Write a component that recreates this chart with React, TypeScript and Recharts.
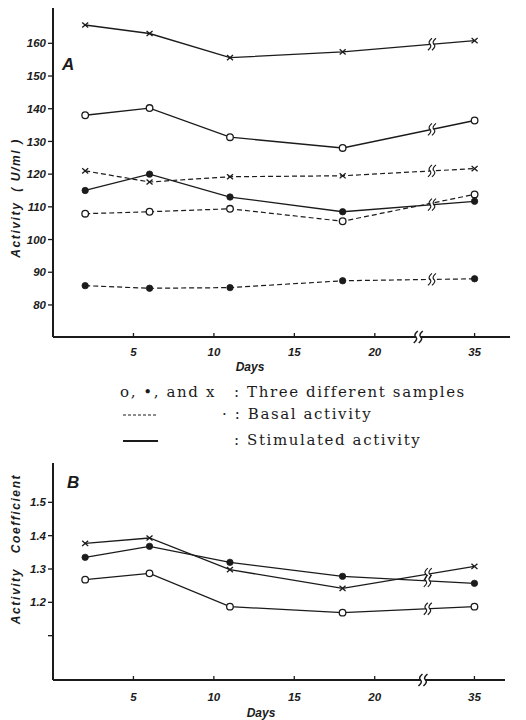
import React from 'react';
import { LineChart, Line, XAxis, YAxis, ReferenceDot } from 'recharts';

// ---- data ----
const days = [2, 6, 11, 18, 35];
const dayTicks = [5, 10, 15, 20, 35];

// Panel A: activity (U/ml)
const stimX = [165.6, 163.0, 155.6, 157.4, 160.8];
const stimO = [138.0, 140.2, 131.3, 128.0, 136.4];
const stimDot = [115.0, 120.0, 113.0, 108.5, 111.7];
const basalX = [121.0, 117.6, 119.2, 119.5, 121.7];
const basalO = [107.9, 108.5, 109.4, 105.6, 113.8];
const basalDot = [85.9, 85.1, 85.3, 87.4, 88.0];
const activityTicks = [80, 90, 100, 110, 120, 130, 140, 150, 160];

// Panel B: activity coefficient
const coefX = [1.377, 1.393, 1.298, 1.242, 1.308];
const coefDot = [1.335, 1.368, 1.32, 1.278, 1.257];
const coefO = [1.268, 1.287, 1.187, 1.169, 1.187];
const coefTicks = [1.1, 1.2, 1.3, 1.4, 1.5];

// broken x axis: day 35 is drawn just after the break
const BROKEN_DAY = 35;
const BROKEN_POS = 26.2;
const toPos = (d: number) => (d === BROKEN_DAY ? BROKEN_POS : d);
const posTicks = dayTicks.map(toPos);
const posLabel = (p: number) => String(p === BROKEN_POS ? BROKEN_DAY : p);

const dataA = days.map((d, i) => ({
  pos: toPos(d),
  stimX: stimX[i],
  stimO: stimO[i],
  stimDot: stimDot[i],
  basalX: basalX[i],
  basalO: basalO[i],
  basalDot: basalDot[i],
}));
const dataB = days.map((d, i) => ({
  pos: toPos(d),
  coefX: coefX[i],
  coefDot: coefDot[i],
  coefO: coefO[i],
}));

const INK = '#1b1b1b';
const SANS = '"Liberation Sans", Arial, sans-serif';
const SERIF = '"DejaVu Serif", "Liberation Serif", serif';

// value on the last segment at a given x position (for break marks)
const onLastSegment = (s: number[], p: number) =>
  s[3] + ((s[4] - s[3]) * (p - toPos(days[3]))) / (BROKEN_POS - toPos(days[3]));

// ---- marks ----
const OpenDot = (p: any) =>
  p.cx == null ? <g key={p.index} /> : (
    <circle key={p.index} cx={p.cx} cy={p.cy} r={3.3} fill="#fff" stroke={INK} strokeWidth={1.3} />
  );
const FilledDot = (p: any) =>
  p.cx == null ? <g key={p.index} /> : (
    <circle key={p.index} cx={p.cx} cy={p.cy} r={3.2} fill={INK} stroke={INK} strokeWidth={0.8} />
  );
const Cross = (p: any) =>
  p.cx == null ? <g key={p.index} /> : (
    <g key={p.index} stroke={INK} strokeWidth={1.3}>
      <line x1={p.cx - 3} y1={p.cy - 2.6} x2={p.cx + 3} y2={p.cy + 2.6} />
      <line x1={p.cx - 3} y1={p.cy + 2.6} x2={p.cx + 3} y2={p.cy - 2.6} />
    </g>
  );

const sPath = (cx: number, cy: number, h: number) =>
  `M ${cx - 2} ${cy + h} Q ${cx + 2.5} ${cy + h / 3} ${cx} ${cy} Q ${cx - 2.5} ${cy - h / 3} ${cx + 2} ${cy - h}`;

const LineBreak = (p: any) =>
  p.cx == null ? <g /> : (
    <g>
      <rect x={p.cx - 1.5} y={p.cy - 3} width={3} height={6} fill="#fff" />
      <path d={sPath(p.cx - 2, p.cy, 6)} stroke={INK} strokeWidth={1.2} fill="none" />
      <path d={sPath(p.cx + 2, p.cy, 6)} stroke={INK} strokeWidth={1.2} fill="none" />
    </g>
  );
const AxisBreak = (p: any) =>
  p.cx == null ? <g /> : (
    <g>
      <rect x={p.cx - 2} y={p.cy - 3} width={4} height={6} fill="#fff" />
      <path d={sPath(p.cx - 2.5, p.cy, 6)} stroke={INK} strokeWidth={1.5} fill="none" />
      <path d={sPath(p.cx + 2.5, p.cy, 6)} stroke={INK} strokeWidth={1.5} fill="none" />
    </g>
  );

const makeXTick = (offset: number) => (props: any) => {
  const { x, y, payload } = props;
  return (
    <g>
      <line x1={x} x2={x} y1={y} y2={y - 4} stroke={INK} strokeWidth={1.3} />
      <text
        x={x}
        y={y + offset}
        textAnchor="middle"
        fill={INK}
        fontSize={11.5}
        fontStyle="italic"
        fontWeight={700}
        fontFamily={SANS}
      >
        {posLabel(payload.value)}
      </text>
    </g>
  );
};

const yTickStyle = {
  fill: INK,
  fontSize: 11.5,
  fontStyle: 'italic',
  fontWeight: 700,
  fontFamily: SANS,
};
const axisLineStyle = { stroke: INK, strokeWidth: 2 };

const AXIS_BREAK_A = 22.7;
const LINE_BREAK_A = 23.55;
const AXIS_BREAK_B = 23.0;
const LINE_BREAK_B = 23.3;
const domainA: [number, number] = [70.2, 170.8];
const domainB: [number, number] = [0.967, 1.618];

const stimStroke = { stroke: INK, strokeWidth: 1.3 };
const basalStroke = { stroke: INK, strokeWidth: 1.2, strokeDasharray: '5 3' };

const Overlay = ({
  left,
  top,
  children,
  style,
}: {
  left: number;
  top: number;
  children: React.ReactNode;
  style?: React.CSSProperties;
}) => (
  <div
    style={{
      position: 'absolute',
      left,
      top,
      whiteSpace: 'nowrap',
      color: INK,
      ...style,
    }}
  >
    {children}
  </div>
);

const axisTitle: React.CSSProperties = {
  fontFamily: SANS,
  fontStyle: 'italic',
  fontWeight: 700,
  fontSize: 12,
  transform: 'translate(-50%, -50%)',
};
const yTitle: React.CSSProperties = {
  ...axisTitle,
  transform: 'translate(-50%, -50%) rotate(-90deg)',
  letterSpacing: 1.6,
};
const legendText: React.CSSProperties = {
  fontFamily: SERIF,
  fontSize: 15,
  letterSpacing: 1.6,
  lineHeight: '17px',
};

export default function App() {
  return (
    <div
      style={{
        position: 'absolute',
        left: 0,
        top: 0,
        width: 526,
        height: 720,
        background: '#fff',
        overflow: 'hidden',
      }}
    >
      {/* Panel A */}
      <div style={{ position: 'absolute', left: 0, top: 0 }}>
        <LineChart width={526} height={380} data={dataA} margin={{ top: 8, right: 16, left: 0, bottom: 0 }}>
          <XAxis
            type="number"
            dataKey="pos"
            domain={[0, 28.4]}
            ticks={posTicks}
            interval={0}
            height={43}
            axisLine={axisLineStyle}
            tickLine={false}
            tickSize={0}
            tickMargin={0}
            tick={makeXTick(19)}
          />
          <YAxis
            type="number"
            domain={domainA}
            ticks={activityTicks}
            interval={0}
            width={53}
            axisLine={axisLineStyle}
            tickLine={{ stroke: INK, strokeWidth: 1.3 }}
            tickSize={5}
            tickMargin={2}
            tick={yTickStyle}
          />
          <Line dataKey="stimX" {...stimStroke} dot={Cross} isAnimationActive={false} />
          <Line dataKey="stimO" {...stimStroke} dot={OpenDot} isAnimationActive={false} />
          <Line dataKey="stimDot" {...stimStroke} dot={FilledDot} isAnimationActive={false} />
          <Line dataKey="basalX" {...basalStroke} dot={Cross} isAnimationActive={false} />
          <Line dataKey="basalO" {...basalStroke} dot={OpenDot} isAnimationActive={false} />
          <Line dataKey="basalDot" {...basalStroke} dot={FilledDot} isAnimationActive={false} />
          {[stimX, stimO, stimDot, basalX, basalDot].map((s, i) => (
            <ReferenceDot
              key={'ba' + i}
              x={LINE_BREAK_A}
              y={onLastSegment(s, LINE_BREAK_A)}
              shape={LineBreak}
              ifOverflow="visible"
            />
          ))}
          <ReferenceDot x={AXIS_BREAK_A} y={domainA[0]} shape={AxisBreak} ifOverflow="visible" />
        </LineChart>
      </div>

      {/* Panel B */}
      <div style={{ position: 'absolute', left: 0, top: 450 }}>
        <LineChart width={526} height={270} data={dataB} margin={{ top: 13, right: 21, left: 0, bottom: 0 }}>
          <XAxis
            type="number"
            dataKey="pos"
            domain={[0, 28.1]}
            ticks={posTicks}
            interval={0}
            height={40}
            axisLine={axisLineStyle}
            tickLine={false}
            tickSize={0}
            tickMargin={0}
            tick={makeXTick(21)}
          />
          <YAxis
            type="number"
            domain={domainB}
            ticks={coefTicks}
            interval={0}
            width={53}
            axisLine={axisLineStyle}
            tickLine={{ stroke: INK, strokeWidth: 1.3 }}
            tickSize={5}
            tickMargin={2}
            tick={yTickStyle}
            tickFormatter={(v: number) => (v === coefTicks[0] ? '' : v.toFixed(1))}
          />
          <Line dataKey="coefX" {...stimStroke} dot={Cross} isAnimationActive={false} />
          <Line dataKey="coefDot" {...stimStroke} dot={FilledDot} isAnimationActive={false} />
          <Line dataKey="coefO" {...stimStroke} dot={OpenDot} isAnimationActive={false} />
          {[coefX, coefDot, coefO].map((s, i) => (
            <ReferenceDot
              key={'bb' + i}
              x={LINE_BREAK_B}
              y={onLastSegment(s, LINE_BREAK_B)}
              shape={LineBreak}
              ifOverflow="visible"
            />
          ))}
          <ReferenceDot x={AXIS_BREAK_B} y={domainB[0]} shape={AxisBreak} ifOverflow="visible" />
        </LineChart>
      </div>

      {/* Titles and labels */}
      <Overlay left={62} top={55} style={{ fontFamily: SANS, fontStyle: 'italic', fontWeight: 700, fontSize: 17 }}>
        A
      </Overlay>
      <Overlay left={67} top={473} style={{ fontFamily: SANS, fontStyle: 'italic', fontWeight: 700, fontSize: 17 }}>
        B
      </Overlay>
      <Overlay left={16} top={198} style={yTitle}>
        Activity&nbsp;&nbsp;( U/ml )
      </Overlay>
      <Overlay left={16} top={549} style={yTitle}>
        Activity&nbsp;&nbsp;&nbsp;Coefficient
      </Overlay>
      <Overlay left={250} top={367} style={axisTitle}>
        Days
      </Overlay>
      <Overlay left={261} top={713} style={axisTitle}>
        Days
      </Overlay>

      {/* Legend */}
      <svg width={526} height={720} style={{ position: 'absolute', left: 0, top: 0, pointerEvents: 'none' }}>
        <line x1={123} x2={158} y1={415} y2={415} stroke={INK} strokeWidth={1} strokeDasharray="3 2" />
        <line x1={123} x2={158} y1={441} y2={441} stroke={INK} strokeWidth={2} />
      </svg>
      <Overlay left={120} top={384} style={legendText}>
        o, &#8226;, and x
      </Overlay>
      <Overlay left={234} top={384} style={legendText}>
        : Three different samples
      </Overlay>
      <Overlay left={222} top={406} style={legendText}>
        &middot; : Basal activity
      </Overlay>
      <Overlay left={234} top={432} style={legendText}>
        : Stimulated activity
      </Overlay>
    </div>
  );
}
